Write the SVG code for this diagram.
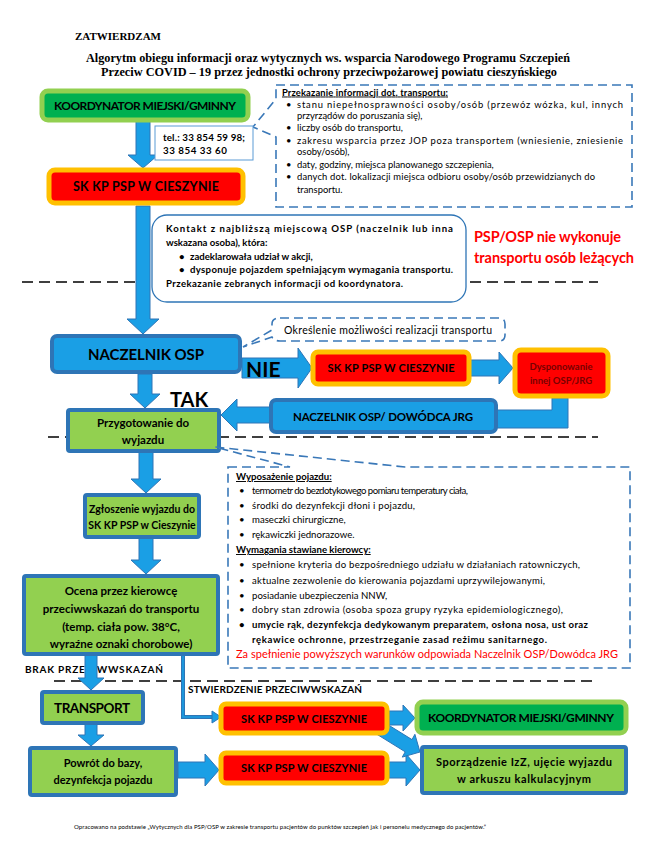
<svg xmlns="http://www.w3.org/2000/svg" width="648" height="856" viewBox="0 0 648 856">
<style>
text{font-family:Lato,'Liberation Sans',sans-serif;fill:#000}
.serif{font-family:'Liberation Serif',serif;font-weight:bold}
.b{font-weight:bold}
.u{text-decoration:underline}
.c{text-anchor:middle}
.koord{fill:#00B050;stroke:#92D050;stroke-width:5}
.sk{fill:#FF0000;stroke:#FFC000;stroke-width:5}
.blue{fill:#1A9FE5;stroke:#2E75B6;stroke-width:4}
.green{fill:#92D050;stroke:#2E75B6;stroke-width:4}
.arrow{fill:#1A9FE5;stroke:#2E75B6;stroke-width:1}
.callout{fill:#fff;stroke:#3A78B8;stroke-width:1.6;stroke-dasharray:9 5}
.sep{stroke:#000;stroke-width:1.5;stroke-dasharray:11 6;fill:none}
.red{fill:#FF0000}
.t1{font-size:9.4px}
.t2{font-size:9.6px}
.dr{fill:#780000}
</style>
<rect width="648" height="856" fill="#fff"/>

<g id="title">
<text class="serif" x="75" y="40" font-size="11">ZATWIERDZAM</text>
<text class="serif" x="86" y="62" font-size="12.5" textLength="484" lengthAdjust="spacingAndGlyphs">Algorytm obiegu informacji oraz wytycznych ws. wsparcia Narodowego Programu Szczepień</text>
<text class="serif" x="101" y="76" font-size="12.5" textLength="456" lengthAdjust="spacingAndGlyphs">Przeciw COVID – 19 przez jednostki ochrony przeciwpożarowej powiatu cieszyńskiego</text>
</g>

<g id="separators">
<path class="sep" d="M22 282H150M470 282H598"/>
<path class="sep" d="M48 437H598"/>
<path class="sep" d="M54 681H592"/>
</g>

<g id="connectors">
<text class="b" x="25" y="673" font-size="10" textLength="138">BRAK PRZECIWWSKAZAŃ</text>
<text class="b" x="188" y="693" font-size="10" textLength="174">STWIERDZENIE PRZECIWWSKAZAŃ</text>
<polygon class="arrow" points="136,121 150,121 150,155 158,155 143,168 128,155 136,155"/>
<polygon class="arrow" points="136,206 150,206 150,319 159,319 143,334 127,319 136,319"/>
<polygon class="arrow" points="138,374 152,374 152,394 160,394 145,408 130,394 138,394"/>
<polygon class="arrow" points="139,452 153,452 153,479 161,479 146,493 131,479 139,479"/>
<polygon class="arrow" points="139,538 153,538 153,560 161,560 146,574 131,560 139,560"/>
<polygon class="arrow" points="85,655 97,655 97,678 104,678 91,690 78,678 85,678"/>
<polygon class="arrow" points="85,724 97,724 97,735 104,735 91,746 78,735 85,735"/>
<polygon class="arrow" points="178,762 205,762 205,754 219,770 205,786 205,778 178,778"/>
<polygon class="arrow" points="389,762 406,762 406,754 420,770 406,786 406,778 389,778"/>
<polygon class="arrow" points="389,711 403,711 403,705 415,718 403,731 403,725 389,725"/>
<polygon class="arrow" points="383.4,721.9 412,739.6 414.9,734.3 420,752 402.3,757.1 405.2,751.8 376.6,734.1"/>
<polygon class="arrow" points="242,358 298,358 298,348 312,368 298,388 298,378 242,378"/>
<polygon class="arrow" points="470,360 499,360 499,352 513,368 499,384 499,376 470,376"/>
<polygon class="arrow" points="552,398 568,398 568,428 497,428 497,410 552,410"/>
<polygon class="arrow" points="270,407 270,423 237,423 237,431 221,415 237,399 237,407"/>
<path d="M183 655V717H213" fill="none" stroke="#2E75B6" stroke-width="4"/>
<path d="M183 655V717H213" fill="none" stroke="#1A9FE5" stroke-width="1.6"/>
<polygon points="212,711 221,717 212,723" fill="#1A9FE5" stroke="#2E75B6" stroke-width="1"/>
<text class="b" x="246" y="377" font-size="21">NIE</text>
<text class="b" x="170" y="407" font-size="20">TAK</text>
</g>

<g id="koordynator1">
<rect class="koord" x="42" y="91" width="206" height="29" rx="6"/>
<text class="b c" x="145" y="109.5" font-size="12" textLength="182">KOORDYNATOR MIEJSKI/GMINNY</text>
</g>

<g id="callout-transport">
<path class="callout" d="M276 85H632V207H276V137L253 127L276 99Z"/>
<text class="b u t1" x="282" y="95.5" textLength="166">Przekazanie informacji dot. transportu:</text>
<text class="t1" x="286" y="107.5">•</text>
<text class="t1" x="297" y="107.5" textLength="326">stanu niepełnosprawności osoby/osób (przewóz wózka, kul, innych</text>
<text class="t1" x="297" y="118.5">przyrządów do poruszania się),</text>
<text class="t1" x="286" y="131">•</text>
<text class="t1" x="297" y="131">liczby osób do transportu,</text>
<text class="t1" x="286" y="144">•</text>
<text class="t1" x="297" y="144" textLength="326">zakresu wsparcia przez JOP poza transportem (wniesienie, zniesienie</text>
<text class="t1" x="297" y="155">osoby/osób),</text>
<text class="t1" x="286" y="168">•</text>
<text class="t1" x="297" y="168">daty, godziny, miejsca planowanego szczepienia,</text>
<text class="t1" x="286" y="180">•</text>
<text class="t1" x="297" y="180" textLength="298">danych dot. lokalizacji miejsca odbioru osoby/osób przewidzianych do</text>
<text class="t1" x="297" y="192.5">transportu.</text>
</g>

<g id="telefon">
<rect x="155" y="126" width="98" height="34" fill="#fff" stroke="#5B9BD5" stroke-width="1"/>
<text class="b" x="163" y="141" font-size="9.8" textLength="82">tel.: 33 854 59 98;</text>
<text class="b" x="163" y="154" font-size="9.8" textLength="64">33 854 33 60</text>
</g>

<g id="sk-kp-1">
<rect class="sk" x="49" y="170" width="194" height="33" rx="6"/>
<text class="b c" x="146" y="191" font-size="12.5" textLength="146">SK KP PSP W CIESZYNIE</text>
</g>

<g id="kontakt">
<rect x="152" y="215" width="314" height="87" rx="15" fill="#fff" stroke="#2E75B6" stroke-width="1.3"/>
<text class="b t2" x="166" y="232" textLength="287">Kontakt z najbliższą miejscową OSP (naczelnik lub inna</text>
<text class="b t2" x="166" y="246">wskazana osoba), która:</text>
<text class="b t2" x="179" y="259.5">•</text>
<text class="b t2" x="190" y="259.5">zadeklarowała udział w akcji,</text>
<text class="b t2" x="179" y="273">•</text>
<text class="b t2" x="190" y="273" textLength="263">dysponuje pojazdem spełniającym wymagania transportu.</text>
<text class="b t2" x="166" y="287" textLength="237">Przekazanie zebranych informacji od koordynatora.</text>
</g>

<g id="uwaga">
<text class="b red" x="474" y="242" font-size="14.5" textLength="147">PSP/OSP nie wykonuje</text>
<text class="b red" x="474" y="263" font-size="14.5" textLength="160">transportu osób leżących</text>
</g>

<g id="naczelnik-osp">
<rect class="blue" x="52" y="336" width="188" height="36" rx="5"/>
<text class="b c" x="146" y="359.5" font-size="15" textLength="116">NACZELNIK OSP</text>
</g>

<g id="callout-okreslenie">
<path class="callout" d="M280 318H499Q505 318 505 324V335Q505 341 499 341H280Q274 341 272 337L243 347L272 330V324Q272 318 280 318Z"/>
<text x="284" y="334" font-size="10.5" textLength="208">Określenie możliwości realizacji transportu</text>
</g>

<g id="sk-kp-2">
<rect class="sk" x="313" y="352" width="156" height="32" rx="5"/>
<text class="b c" x="391" y="372" font-size="11" textLength="127">SK KP PSP W CIESZYNIE</text>
</g>

<g id="dysponowanie">
<rect class="sk" x="515" y="350" width="93" height="46" rx="6"/>
<text class="b c dr" x="561" y="370" font-size="9.5">Dysponowanie</text>
<text class="b c dr" x="561" y="384" font-size="9.5">innej OSP/JRG</text>
</g>

<g id="naczelnik-dowodca">
<rect class="blue" x="271" y="400" width="225" height="32" rx="5"/>
<text class="b c" x="383" y="420.5" font-size="11.5" textLength="180">NACZELNIK OSP/ DOWÓDCA JRG</text>
</g>

<g id="przygotowanie">
<rect class="green" x="68" y="410" width="151" height="41" rx="2"/>
<text class="b c" x="143" y="427" font-size="11.5">Przygotowanie do</text>
<text class="b c" x="143" y="444" font-size="11.5">wyjazdu</text>
</g>

<g id="callout-wyposazenie">
<path class="callout" d="M228 467H290L215 447L405 467H630V668H228Z"/>
<text class="b u t2" x="236" y="480">Wyposażenie pojazdu:</text>
<text class="t2" x="239" y="494">•</text>
<text class="t2" x="252" y="494" textLength="216">termometr do bezdotykowego pomiaru temperatury ciała,</text>
<text class="t2" x="239" y="508.5">•</text>
<text class="t2" x="252" y="508.5" textLength="163">środki do dezynfekcji dłoni i pojazdu,</text>
<text class="t2" x="239" y="523">•</text>
<text class="t2" x="252" y="523">maseczki chirurgiczne,</text>
<text class="t2" x="239" y="538">•</text>
<text class="t2" x="252" y="538">rękawiczki jednorazowe.</text>
<text class="b u t2" x="236" y="553">Wymagania stawiane kierowcy:</text>
<text class="t2" x="239" y="568">•</text>
<text class="t2" x="252" y="568" textLength="328">spełnione kryteria do bezpośredniego udziału w działaniach ratowniczych,</text>
<text class="t2" x="239" y="584">•</text>
<text class="t2" x="252" y="584" textLength="293">aktualne zezwolenie do kierowania pojazdami uprzywilejowanymi,</text>
<text class="t2" x="239" y="598.5">•</text>
<text class="t2" x="252" y="598.5">posiadanie ubezpieczenia NNW,</text>
<text class="t2" x="239" y="613">•</text>
<text class="t2" x="252" y="613" textLength="311">dobry stan zdrowia (osoba spoza grupy ryzyka epidemiologicznego),</text>
<text class="b t2" x="239" y="628">•</text>
<text class="b t2" x="252" y="628" textLength="336">umycie rąk, dezynfekcja dedykowanym preparatem, osłona nosa, ust oraz</text>
<text class="b t2" x="252" y="643" textLength="295">rękawice ochronne, przestrzeganie zasad reżimu sanitarnego.</text>
<text class="red" x="236" y="658" font-size="11" textLength="382">Za spełnienie powyższych warunków odpowiada Naczelnik OSP/Dowódca JRG</text>
</g>

<g id="zgloszenie">
<rect class="green" x="85" y="495" width="114" height="42" rx="2"/>
<text class="b c" x="142" y="513" font-size="10.5">Zgłoszenie wyjazdu do</text>
<text class="b c" x="142" y="529" font-size="10.5">SK KP PSP w Cieszynie</text>
</g>

<g id="ocena">
<rect class="green" x="24" y="576" width="194" height="78" rx="2"/>
<text class="b c" x="121" y="595" font-size="11.5">Ocena przez kierowcę</text>
<text class="b c" x="121" y="613" font-size="11.5">przeciwwskazań do transportu</text>
<text class="b c" x="121" y="631" font-size="11.5">(temp. ciała pow. 38°C,</text>
<text class="b c" x="121" y="648" font-size="11.5">wyraźne oznaki chorobowe)</text>
</g>

<g id="transport">
<rect class="green" x="42" y="692" width="101" height="31" rx="2"/>
<text class="b c" x="92" y="712.5" font-size="13.5" textLength="76">TRANSPORT</text>
</g>

<g id="powrot">
<rect class="green" x="30" y="748" width="146" height="47" rx="2"/>
<text class="b c" x="103" y="767" font-size="11">Powrót do bazy,</text>
<text class="b c" x="103" y="784" font-size="11">dezynfekcja pojazdu</text>
</g>

<g id="sk-kp-3">
<rect class="sk" x="221" y="704" width="166" height="29" rx="5"/>
<text class="b c" x="304" y="722.5" font-size="11" textLength="126">SK KP PSP W CIESZYNIE</text>
</g>

<g id="sk-kp-4">
<rect class="sk" x="221" y="753" width="166" height="30" rx="5"/>
<text class="b c" x="304" y="772" font-size="11" textLength="126">SK KP PSP W CIESZYNIE</text>
</g>

<g id="koordynator2">
<rect class="koord" x="417" y="702" width="209" height="31" rx="6"/>
<text class="b c" x="521" y="721.5" font-size="12" textLength="186">KOORDYNATOR MIEJSKI/GMINNY</text>
</g>

<g id="sporzadzenie">
<rect class="green" x="422" y="747" width="204" height="46" rx="2"/>
<text class="b c" x="524" y="766" font-size="11" textLength="176">Sporządzenie IzZ, ujęcie wyjazdu</text>
<text class="b c" x="524" y="783" font-size="11" textLength="134">w arkuszu kalkulacyjnym</text>
</g>

<g id="footer">
<text x="74" y="829" font-size="6" textLength="412">Opracowano na podstawie „Wytycznych dla PSP/OSP w zakresie transportu pacjentów do punktów szczepień jak i personelu medycznego do pacjentów.”</text>
</g>
</svg>
